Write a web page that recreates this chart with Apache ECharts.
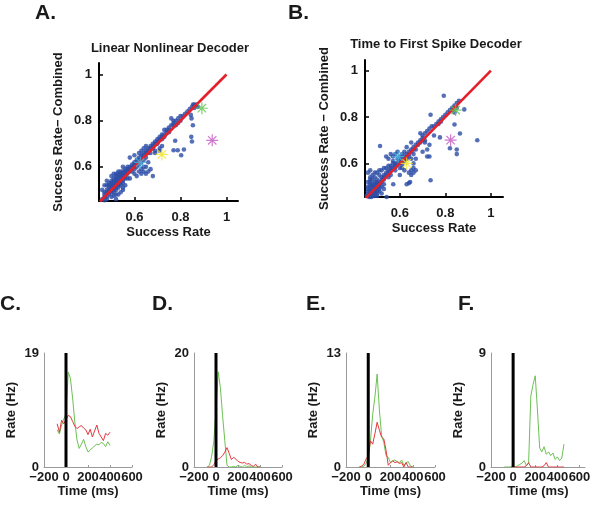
<!DOCTYPE html>
<html><head><meta charset="utf-8">
<script src="https://cdn.jsdelivr.net/npm/echarts@6/dist/echarts.min.js"></script>
<style>html,body{margin:0;padding:0;background:#fff}#c{width:599px;height:505px}</style>
</head><body><div id="c"></div>
<script>
// ---------- Panel A: Linear Nonlinear Decoder ----------
const lnPoints = [
[0.46,0.46],[0.47,0.47],[0.47,0.49],[0.48,0.47],[0.48,0.5],[0.48,0.52],[0.49,0.48],[0.49,0.5],[0.49,0.51],[0.49,0.53],
[0.5,0.49],[0.5,0.5],[0.5,0.51],[0.5,0.52],[0.5,0.54],[0.51,0.5],[0.51,0.51],[0.51,0.52],[0.51,0.53],[0.51,0.55],
[0.52,0.5],[0.52,0.52],[0.52,0.53],[0.52,0.54],[0.52,0.55],[0.52,0.57],[0.53,0.51],[0.53,0.52],[0.53,0.53],[0.53,0.54],
[0.53,0.55],[0.53,0.56],[0.54,0.52],[0.54,0.53],[0.54,0.54],[0.54,0.56],[0.54,0.57],[0.55,0.53],[0.55,0.55],[0.55,0.56],
[0.55,0.58],[0.56,0.55],[0.56,0.57],[0.56,0.58],[0.57,0.57],[0.57,0.59],[0.58,0.58],[0.58,0.6],[0.47,0.455],[0.48,0.46],
[0.5,0.47],[0.51,0.475],[0.52,0.46],[0.53,0.48],[0.54,0.49],[0.55,0.5],[0.56,0.52],[0.46,0.5],[0.47,0.52],[0.48,0.54],
[0.51,0.57],[0.53,0.58],[0.55,0.6],[0.5,0.56],[0.52,0.48],[0.55,0.51],[0.57,0.55],[0.6,0.57],[0.58,0.55],
[0.59,0.6],[0.6,0.61],[0.6,0.62],[0.61,0.62],[0.61,0.6],[0.62,0.63],[0.62,0.61],[0.63,0.64],[0.63,0.62],[0.64,0.65],
[0.64,0.63],[0.65,0.66],[0.65,0.64],[0.66,0.67],[0.66,0.68],[0.67,0.68],[0.67,0.66],[0.68,0.69],[0.68,0.7],[0.69,0.7],
[0.7,0.71],[0.7,0.72],[0.58,0.64],[0.6,0.65],[0.62,0.66],[0.63,0.67],[0.64,0.68],[0.65,0.69],[0.62,0.58],[0.63,0.57],
[0.64,0.58],[0.65,0.57],[0.64,0.6],[0.66,0.58],[0.68,0.56],[0.61,0.56],[0.6,0.59],[0.66,0.62],[0.69,0.66],[0.71,0.68],
[0.71,0.73],[0.72,0.74],[0.73,0.74],[0.74,0.75],[0.74,0.76],[0.75,0.77],[0.76,0.78],[0.77,0.79],[0.77,0.8],[0.76,0.81],
[0.78,0.8],[0.79,0.81],[0.8,0.82],[0.72,0.72],[0.73,0.76],[0.75,0.75],[0.77,0.78],[0.85,0.86],[0.855,0.87],[0.86,0.855],
[0.87,0.87],[0.875,0.86],[0.845,0.825],[0.848,0.81],[0.854,0.78],[0.847,0.73],[0.85,0.71],[0.777,0.713],[0.77,0.672],[0.788,0.672],
[0.803,0.65],[0.815,0.675],[0.71,0.67],[0.72,0.69],[0.69,0.67],
[0.47,0.48],[0.48,0.49],[0.49,0.49],[0.49,0.52],[0.5,0.53],[0.51,0.49],[0.51,0.54],[0.52,0.51],[0.52,0.56],[0.53,0.57],
[0.54,0.55],[0.54,0.58],[0.55,0.54],[0.55,0.57],[0.56,0.56],[0.56,0.59],[0.57,0.58],[0.57,0.6],[0.58,0.59],[0.59,0.61],
[0.59,0.58],[0.6,0.6],[0.61,0.63],[0.62,0.64],[0.63,0.65],[0.64,0.66],[0.65,0.67],[0.66,0.66],[0.67,0.69],[0.68,0.68],
[0.69,0.71],[0.7,0.7],[0.71,0.72],[0.72,0.73],[0.73,0.73],[0.75,0.76],[0.78,0.78],[0.79,0.79],[0.8,0.8],[0.81,0.82],
[0.82,0.83],[0.83,0.84],[0.84,0.85],[0.86,0.87],[0.63,0.59],[0.65,0.6],[0.67,0.59]
];
const lnGreenStar = [0.893, 0.854];
const lnMagentaStar = [0.938, 0.715];
const lnYellowStar = [0.719, 0.654];
const lnCyanStar = [0.625, 0.619];

// ---------- Panel B: Time to First Spike Decoder ----------
const tfsPoints = [
[0.455,0.46],[0.46,0.47],[0.46,0.49],[0.46,0.52],[0.46,0.56],[0.47,0.46],[0.47,0.48],[0.47,0.5],[0.47,0.53],[0.47,0.57],
[0.48,0.46],[0.48,0.47],[0.48,0.49],[0.48,0.51],[0.48,0.55],[0.49,0.46],[0.49,0.48],[0.49,0.5],[0.49,0.52],[0.49,0.54],
[0.5,0.47],[0.5,0.49],[0.5,0.51],[0.5,0.53],[0.5,0.56],[0.51,0.48],[0.51,0.5],[0.51,0.52],[0.51,0.55],[0.52,0.5],
[0.52,0.52],[0.52,0.54],[0.52,0.57],[0.53,0.51],[0.53,0.53],[0.53,0.55],[0.54,0.55],[0.54,0.58],[0.55,0.56],[0.55,0.54],
[0.56,0.57],[0.56,0.59],[0.57,0.58],[0.57,0.6],[0.58,0.59],[0.465,0.455],[0.475,0.455],[0.5,0.46],[0.542,0.455],[0.52,0.47],
[0.53,0.49],[0.47,0.54],[0.49,0.56],[0.51,0.57],[0.53,0.58],
[0.513,0.675],[0.54,0.63],[0.55,0.62],[0.56,0.64],[0.57,0.61],[0.58,0.6],[0.59,0.62],[0.6,0.6],[0.6,0.63],[0.61,0.64],
[0.61,0.62],[0.62,0.63],[0.62,0.61],[0.62,0.65],[0.63,0.64],[0.63,0.62],[0.64,0.65],[0.64,0.63],[0.65,0.66],[0.65,0.62],
[0.66,0.67],[0.66,0.64],[0.67,0.68],[0.67,0.66],[0.68,0.69],[0.69,0.7],[0.7,0.71],[0.56,0.55],[0.58,0.57],[0.6,0.58],
[0.61,0.58],[0.62,0.57],[0.64,0.56],[0.65,0.57],[0.66,0.58],[0.67,0.57],[0.65,0.55],[0.66,0.56],[0.571,0.51],[0.63,0.51],
[0.64,0.515],[0.645,0.52],[0.735,0.527],[0.6,0.55],[0.55,0.59],[0.57,0.63],[0.58,0.64],[0.59,0.65],[0.63,0.67],[0.65,0.69],
[0.61,0.595],[0.58,0.585],[0.66,0.6],[0.67,0.62],
[0.7,0.72],[0.71,0.7],[0.71,0.73],[0.72,0.74],[0.72,0.63],[0.73,0.75],[0.73,0.63],[0.74,0.76],[0.75,0.76],[0.76,0.77],
[0.77,0.78],[0.78,0.79],[0.79,0.8],[0.8,0.81],[0.81,0.82],[0.82,0.83],[0.83,0.84],[0.84,0.85],[0.85,0.86],[0.86,0.87],
[0.735,0.81],[0.793,0.892],[0.883,0.833],[0.94,0.70],[0.864,0.729],[0.84,0.768],[0.776,0.712],[0.82,0.665],[0.85,0.66],[0.85,0.64],
[0.75,0.72],[0.73,0.68],[0.72,0.66],[0.7,0.65],[0.69,0.73],[0.71,0.69],[0.85,0.84],[0.84,0.82],
[0.46,0.48],[0.46,0.5],[0.47,0.47],[0.47,0.49],[0.47,0.51],[0.48,0.48],[0.48,0.5],[0.48,0.53],[0.49,0.47],[0.49,0.49],
[0.49,0.51],[0.5,0.48],[0.5,0.5],[0.5,0.52],[0.51,0.49],[0.51,0.51],[0.52,0.53],[0.53,0.54],[0.54,0.56],[0.55,0.57],
[0.56,0.58],[0.59,0.6],[0.6,0.61],[0.61,0.61],[0.62,0.62],[0.63,0.63],[0.64,0.64],[0.65,0.65],[0.66,0.66],[0.68,0.68],
[0.69,0.69],[0.7,0.7],[0.77,0.77],[0.78,0.78],[0.47,0.52]
];
const tfsGreenStar = [0.845, 0.83];
const tfsMagentaStar = [0.823, 0.70];
const tfsYellowStar = [0.63, 0.60];
const tfsCyanStar = [0.593, 0.629];

const identityRange = [0.45, 1.0];
const scatterTicks = [0.6, 0.8, 1];

// ---------- Panels C-F: firing rates ----------
const timeBins = [-80,-60,-40,-20,0,20,40,60,80,100,120,140,160,180,200,220,240,260,280,300,320,340,360,380,400];
const cGreen = [6.2,5.5,7.0,8.0,8.8,15.8,14.8,11.5,7.5,4.5,3.1,3.8,4.6,3.4,2.5,2.8,3.2,3.5,3.8,3.7,4.1,3.9,3.4,4.2,3.6];
const cRed   = [7.2,5.8,7.8,7.2,7.9,8.6,8.4,7.6,6.8,6.4,6.7,6.9,6.5,6.2,5.4,6.3,5.0,6.0,7.0,5.6,5.0,4.4,5.6,5.3,5.8];
const dGreen = [0,0.3,1.8,4.5,10,16.7,13.9,9.0,4.6,0.3,0,0,0.1,0,0.3,0.1,0,0.3,0,0.2,0,0,0,0,0];
const dRed   = [0,0,0,0.4,1.1,1.4,1.6,2.0,2.6,3.4,2.4,1.3,1.7,1.4,1.0,0.8,0.7,0.8,0.5,0.6,0.3,0.1,0.5,0,0];
const eGreen = [0,0,0.1,0.4,1.0,3.0,6.0,8.0,10.6,6.5,3.6,2.8,1.3,1.1,0.5,0.7,0.8,0.6,0.5,0.8,0.2,0.5,0.6,0.1,0];
const eRed   = [0,0.1,0.3,0.9,1.3,3.0,2.6,3.8,5.1,4.2,3.4,3.2,1.9,0.2,0.5,0.7,0.5,0.6,0.4,0.5,0,0.5,0,0,0];
const timeBinsF = [-80,-60,-40,-20,0,20,40,60,80,100,120,140,160,180,200,220,240,260,280,300,320,340,360,380,400,420,440,460];
const fGreen = [0,0,0,0,0,0,0.1,0.2,0.3,0.5,0.1,0.3,5.6,6.5,7.2,4.5,1.5,1.2,1.6,1.0,1.2,0.9,1.1,0.6,0.8,0.5,0.7,1.8];
const fRed   = [null,null,null,0,0,0,0,0,0,0,0.1,0.35,0,0,0,0,0,0,0.1,0.35,0,0,0,0,0,0,0,0];
const rateMax = [19, 20, 13, 9];
const onsetTime = 0;
const timeTicks = [-200, 0, 200, 400, 600];

// ---------- chart ----------
const FONT = '"Liberation Sans", Arial, Helvetica, sans-serif';
const chart = echarts.init(document.getElementById('c'), null, {renderer: 'canvas'});

const grids = [
  {left: 99, top: 63, width: 139, height: 138},
  {left: 365, top: 60, width: 138, height: 137},
  {left: 44, top: 353, width: 88, height: 114},
  {left: 194, top: 353, width: 88, height: 114},
  {left: 346, top: 353, width: 89, height: 114},
  {left: 491, top: 353, width: 94, height: 114}
];

const boldLabel = {fontFamily: FONT, fontWeight: 'bold', fontSize: 13, color: '#1a1a1a'};
const fmtScatter = v => (Math.abs(v - 1) < 1e-9 ? '1' : v.toFixed(1));

function scatterX(gi, min, max) {
  return {type: 'value', gridIndex: gi, min, max,
    name: 'Success Rate', nameLocation: 'middle', nameGap: 25,
    nameTextStyle: {fontFamily: FONT, fontWeight: 'bold', fontSize: 13, color: '#1a1a1a'},
    axisLine: {show: true, onZero: false, lineStyle: {color: '#000', width: 2}},
    axisTick: {show: true, inside: true, length: 4, customValues: scatterTicks, lineStyle: {color: '#000', width: 1.5}},
    axisLabel: Object.assign({customValues: scatterTicks, formatter: fmtScatter, margin: 10, hideOverlap: false}, boldLabel),
    splitLine: {show: false}};
}
function scatterY(gi, min, max, nm) {
  return {type: 'value', gridIndex: gi, min, max,
    name: nm, nameLocation: 'middle', nameGap: 34,
    nameTextStyle: {fontFamily: FONT, fontWeight: 'bold', fontSize: 13, color: '#1a1a1a'},
    axisLine: {show: true, onZero: false, lineStyle: {color: '#000', width: 2}},
    axisTick: {show: true, inside: true, length: 4, customValues: scatterTicks, lineStyle: {color: '#000', width: 1.5}},
    axisLabel: Object.assign({customValues: scatterTicks, formatter: fmtScatter, margin: 7, hideOverlap: false}, boldLabel),
    splitLine: {show: false}};
}
function rateX(gi, max) {
  return {type: 'value', gridIndex: gi, min: -200, max,
    name: 'Time (ms)', nameLocation: 'middle', nameGap: 12,
    nameTextStyle: {fontFamily: FONT, fontWeight: 'bold', fontSize: 13, color: '#1a1a1a'},
    axisLine: {show: true, onZero: false, lineStyle: {color: '#9a9a9a', width: 1}},
    axisTick: {show: true, inside: true, length: 2, customValues: timeTicks, lineStyle: {color: '#9a9a9a'}},
    axisLabel: Object.assign({customValues: timeTicks, margin: 4, hideOverlap: false, showMinLabel: true, showMaxLabel: true,
      formatter: v => String(v).replace('-', '\u2212')}, boldLabel),
    splitLine: {show: false}};
}
function rateY(gi, max) {
  return {type: 'value', gridIndex: gi, min: 0, max,
    name: 'Rate (Hz)', nameLocation: 'middle', nameGap: 26,
    nameTextStyle: {fontFamily: FONT, fontWeight: 'bold', fontSize: 13, color: '#1a1a1a'},
    axisLine: {show: true, onZero: false, lineStyle: {color: '#9a9a9a', width: 1}},
    axisTick: {show: false},
    axisLabel: Object.assign({customValues: [0, max], margin: 5, hideOverlap: false}, boldLabel),
    splitLine: {show: false}};
}

const STAR = 'path://M5,0L5,10M0,5L10,5M1.5,1.5L8.5,8.5M1.5,8.5L8.5,1.5';
function star(idx, pt, col) {
  return {type: 'scatter', xAxisIndex: idx, yAxisIndex: idx, data: [pt], symbol: STAR, symbolSize: 12,
    itemStyle: {color: col, borderColor: col, borderWidth: 1.2}, z: 5, silent: true};
}
function dots(idx, pts) {
  return {type: 'scatter', xAxisIndex: idx, yAxisIndex: idx, data: pts, symbol: 'circle', symbolSize: 4.6,
    itemStyle: {color: '#2c4ca6'}, z: 2, silent: true};
}
function diag(idx) {
  return {type: 'line', xAxisIndex: idx, yAxisIndex: idx,
    data: identityRange.map(v => [v, v]), showSymbol: false,
    lineStyle: {color: '#e3212b', width: 2.6}, z: 3, silent: true};
}
function rateLine(idx, times, vals, col) {
  return {type: 'line', xAxisIndex: idx, yAxisIndex: idx,
    data: times.map((t, i) => [t, vals[i]]), showSymbol: false, connectNulls: false,
    lineStyle: {color: col, width: 1}, z: 2, silent: true};
}
function onset(idx, ymax) {
  return {type: 'line', xAxisIndex: idx, yAxisIndex: idx,
    data: [[onsetTime, 0], [onsetTime, ymax]], showSymbol: false,
    lineStyle: {color: '#000', width: 3}, z: 4, silent: true};
}

const GREEN = '#6cc153', RED = '#e2383d';

const option = {
  animation: false,
  backgroundColor: '#fff',
  grid: grids,
  xAxis: [
    scatterX(0, 0.446, 1.05), scatterX(1, 0.447, 1.053),
    rateX(2, 600), rateX(3, 600), rateX(4, 600), rateX(5, 650)
  ],
  yAxis: [
    scatterY(0, 0.452, 1.05, 'Success Rate\u2212 Combined'),
    scatterY(1, 0.455, 1.046, 'Success Rate \u2212 Combined'),
    rateY(2, rateMax[0]), rateY(3, rateMax[1]), rateY(4, rateMax[2]), rateY(5, rateMax[3])
  ],
  series: [
    dots(0, lnPoints), diag(0),
    star(0, lnGreenStar, '#5fc24c'), star(0, lnMagentaStar, '#c457c4'),
    star(0, lnYellowStar, '#f2e41c'), star(0, lnCyanStar, '#45b6e0'),
    dots(1, tfsPoints), diag(1),
    star(1, tfsGreenStar, '#5fc24c'), star(1, tfsMagentaStar, '#c457c4'),
    star(1, tfsYellowStar, '#f2e41c'), star(1, tfsCyanStar, '#45b6e0'),
    rateLine(2, timeBins, cGreen, GREEN), rateLine(2, timeBins, cRed, RED), onset(2, rateMax[0]),
    rateLine(3, timeBins, dGreen, GREEN), rateLine(3, timeBins, dRed, RED), onset(3, rateMax[1]),
    rateLine(4, timeBins, eGreen, GREEN), rateLine(4, timeBins, eRed, RED), onset(4, rateMax[2]),
    rateLine(5, timeBinsF, fGreen, GREEN), rateLine(5, timeBinsF, fRed, RED), onset(5, rateMax[3])
  ],
  graphic: [
    {type: 'text', x: 35, y: 3, style: {text: 'A.', font: 'bold 21px ' + FONT, fill: '#1a1a1a'}},
    {type: 'text', x: 288, y: 3, style: {text: 'B.', font: 'bold 21px ' + FONT, fill: '#1a1a1a'}},
    {type: 'text', x: 0, y: 294, style: {text: 'C.', font: 'bold 21px ' + FONT, fill: '#1a1a1a'}},
    {type: 'text', x: 152, y: 294, style: {text: 'D.', font: 'bold 21px ' + FONT, fill: '#1a1a1a'}},
    {type: 'text', x: 306, y: 294, style: {text: 'E.', font: 'bold 21px ' + FONT, fill: '#1a1a1a'}},
    {type: 'text', x: 458, y: 294, style: {text: 'F.', font: 'bold 21px ' + FONT, fill: '#1a1a1a'}},
    {type: 'text', x: 170, y: 48, style: {text: 'Linear Nonlinear Decoder', font: 'bold 13px ' + FONT, fill: '#1a1a1a', align: 'center', verticalAlign: 'middle', textAlign: 'center', textVerticalAlign: 'middle'}},
    {type: 'text', x: 436, y: 44, style: {text: 'Time to First Spike Decoder', font: 'bold 13px ' + FONT, fill: '#1a1a1a', align: 'center', verticalAlign: 'middle', textAlign: 'center', textVerticalAlign: 'middle'}}
  ]
};
chart.setOption(option);
</script>
</body></html>
